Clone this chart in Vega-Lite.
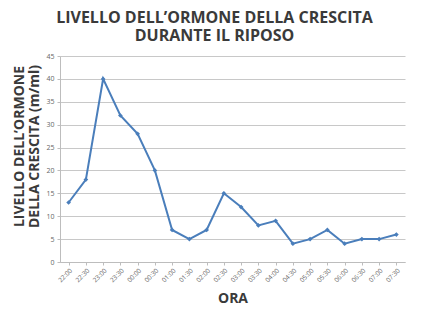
{
  "$schema": "https://vega.github.io/schema/vega-lite/v6.json",
  "width": 345,
  "height": 206,
  "autosize": {"type": "none"},
  "padding": {"left": 60, "top": 56, "right": 19, "bottom": 53},
  "background": "white",
  "title": {
    "text": "LIVELLO DELL’ORMONE DELLA CRESCITA",
    "subtitle": "DURANTE IL RIPOSO",
    "font": "Open Sans",
    "fontSize": 16,
    "fontWeight": "bold",
    "color": "#3a3a3a",
    "subtitleFont": "Open Sans",
    "subtitleFontSize": 16,
    "subtitleFontWeight": "bold",
    "subtitleColor": "#3a3a3a",
    "subtitlePadding": 2,
    "anchor": "middle",
    "dx": -18,
    "offset": 8
  },
  "data": {
    "values": [
      {"ora": "22:00", "valore": 13},
      {"ora": "22:30", "valore": 18},
      {"ora": "23:00", "valore": 40},
      {"ora": "23:30", "valore": 32},
      {"ora": "00:00", "valore": 28},
      {"ora": "00:30", "valore": 20},
      {"ora": "01:00", "valore": 7},
      {"ora": "01:30", "valore": 5},
      {"ora": "02:00", "valore": 7},
      {"ora": "02:30", "valore": 15},
      {"ora": "03:00", "valore": 12},
      {"ora": "03:30", "valore": 8},
      {"ora": "04:00", "valore": 9},
      {"ora": "04:30", "valore": 4},
      {"ora": "05:00", "valore": 5},
      {"ora": "05:30", "valore": 7},
      {"ora": "06:00", "valore": 4},
      {"ora": "06:30", "valore": 5},
      {"ora": "07:00", "valore": 5},
      {"ora": "07:30", "valore": 6}
    ]
  },
  "mark": {
    "type": "line",
    "color": "#4a7ebb",
    "strokeWidth": 2,
    "point": {"shape": "diamond", "size": 22, "filled": true, "color": "#4a7ebb"}
  },
  "encoding": {
    "x": {
      "field": "ora",
      "type": "ordinal",
      "sort": null,
      "scale": {"type": "point", "padding": 0.5},
      "axis": {
        "title": "ORA",
        "titleFont": "Open Sans",
        "titleFontSize": 14,
        "titleFontWeight": "bold",
        "titleColor": "#3a3a3a",
        "titlePadding": 8,
        "labelAngle": -45,
        "labelFont": "Open Sans",
        "labelFontSize": 6.5,
        "labelColor": "#666666",
        "labelPadding": 2,
        "domainColor": "#bdbdbd",
        "tickColor": "#bdbdbd",
        "tickSize": 3,
        "grid": false
      }
    },
    "y": {
      "field": "valore",
      "type": "quantitative",
      "scale": {"domain": [0, 45], "nice": false},
      "axis": {
        "title": ["LIVELLO DELL’ORMONE", "DELLA CRESCITA (m/ml)"],
        "titleFont": "Open Sans",
        "titleFontSize": 14,
        "titleFontWeight": "bold",
        "titleColor": "#3a3a3a",
        "titleLineHeight": 15,
        "titlePadding": 4,
        "titleY": 90,
        "values": [0, 5, 10, 15, 20, 25, 30, 35, 40, 45],
        "labelFont": "Open Sans",
        "labelFontSize": 7,
        "labelColor": "#666666",
        "labelPadding": 3,
        "domainColor": "#bdbdbd",
        "tickColor": "#bdbdbd",
        "tickSize": 3,
        "gridColor": "#c8c8c8",
        "gridWidth": 1
      }
    }
  },
  "config": {"view": {"stroke": null}}
}
